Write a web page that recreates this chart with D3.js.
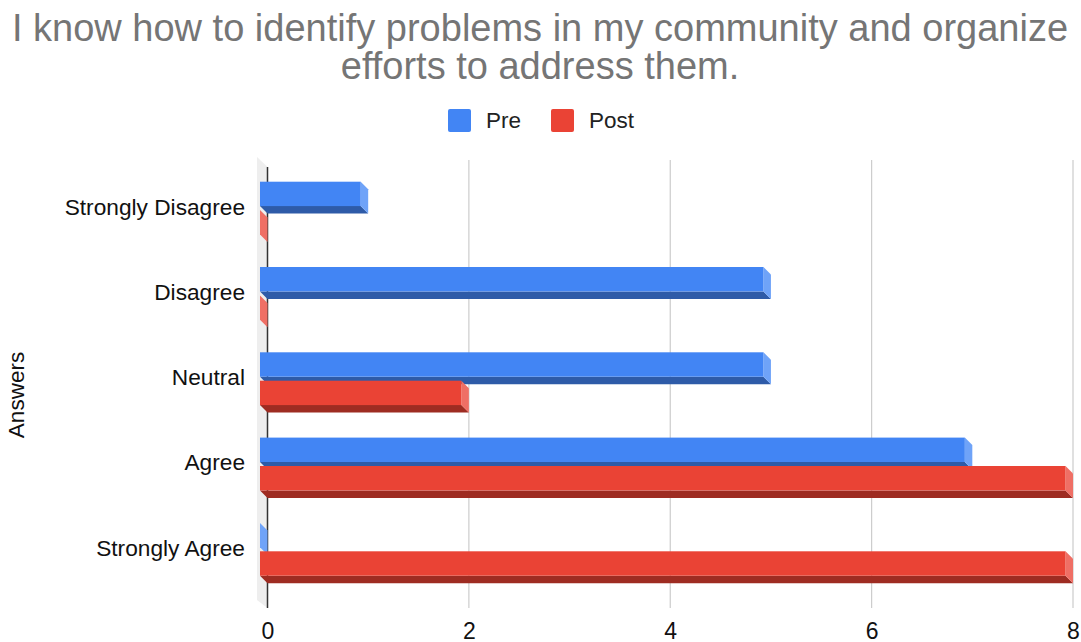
<!DOCTYPE html>
<html>
<head>
<meta charset="utf-8">
<script src="https://cdn.jsdelivr.net/npm/d3@7"></script>
<style>
  html, body { margin: 0; padding: 0; background: #fff; }
  svg { display: block; font-family: "Liberation Sans", Arial, sans-serif; }
</style>
</head>
<body>
<svg id="chart" width="1081" height="642"></svg>
<script>
const categories = ["Strongly Disagree", "Disagree", "Neutral", "Agree", "Strongly Agree"];
const seriesNames = ["Pre", "Post"];
const preValues = [1, 5, 5, 7, 0];
const postValues = [0, 0, 2, 8, 8];
const xTicks = [0, 2, 4, 6, 8];
const titleLines = ["I know how to identify problems in my community and organize", "efforts to address them."];
const yAxisTitle = "Answers";

const colors = {
  Pre:  { front: "#4285F4", bottom: "#2E5BA8", side: "#6FA3F8" },
  Post: { front: "#EA4335", bottom: "#9E2C22", side: "#EF6F65" }
};

const svg = d3.select("#chart");
const D = 7.5;          // 3D depth offset
const backTop = 167, backBottom = 608;

const x = d3.scaleLinear().domain([0, 8]).range([267.5, 1073]);
const y = d3.scaleBand().domain(categories).range([165.45, 591.95]).paddingInner(0.381).paddingOuter(0.1905);
const ySub = d3.scaleBand().domain(seriesNames).range([0, y.bandwidth()]).paddingInner(0.1408);

// Title
svg.append("g").selectAll("text").data(titleLines).join("text")
  .attr("x", 540).attr("y", (d, i) => i === 0 ? 40.5 : 79)
  .attr("text-anchor", "middle").attr("font-size", 38).attr("fill", "#757575")
  .text(d => d);

// Legend
const legend = svg.append("g");
const legendItems = [{ name: "Pre", x: 448, tx: 486 }, { name: "Post", x: 551, tx: 589 }];
legend.selectAll("rect").data(legendItems).join("rect")
  .attr("x", d => d.x).attr("y", 109).attr("width", 23).attr("height", 23)
  .attr("rx", 2).attr("fill", d => colors[d.name].front);
legend.selectAll("text").data(legendItems).join("text")
  .attr("x", d => d.tx).attr("y", 128).attr("font-size", 22.5).attr("fill", "#222")
  .text(d => d.name);

// Wall (left side plane)
svg.append("polygon")
  .attr("points", [[x(0) - 10.5, backTop - 10], [x(0), backTop], [x(0), backBottom], [x(0) - 10.5, backBottom - 8]].map(p => p.join(",")).join(" "))
  .attr("fill", "#eeeeee");

// Gridlines
svg.append("g").selectAll("line").data(xTicks).join("line")
  .attr("x1", d => x(d)).attr("x2", d => x(d))
  .attr("y1", d => d === 0 ? backTop : backTop - 7).attr("y2", backBottom)
  .attr("stroke", d => d === 0 ? "#333" : "#cccccc").attr("stroke-width", d => d === 0 ? 1.5 : 1.2);

// X tick labels
svg.append("g").selectAll("text").data(xTicks).join("text")
  .attr("x", d => x(d) + 0.5).attr("y", 638.5).attr("text-anchor", "middle")
  .attr("font-size", 23).attr("fill", "#111").text(d => d);

// Category labels
svg.append("g").selectAll("text").data(categories).join("text")
  .attr("x", 245).attr("y", d => y(d) + y.bandwidth() / 2 - 1.5)
  .attr("dy", "0.35em").attr("text-anchor", "end")
  .attr("font-size", 22.7).attr("fill", "#111").text(d => d);

// Y axis title
svg.append("text")
  .attr("transform", "translate(24,395) rotate(-90)")
  .attr("text-anchor", "middle").attr("font-size", 22.5).attr("fill", "#111")
  .text(yAxisTitle);

// Bars (3D)
const barData = [];
categories.forEach((c, i) => {
  barData.push({ cat: c, series: "Pre", value: preValues[i] });
  barData.push({ cat: c, series: "Post", value: postValues[i] });
});

const bars = svg.append("g").selectAll("g").data(barData).join("g");
bars.each(function (d) {
  const g = d3.select(this);
  const col = colors[d.series];
  // front-plane coordinates
  const fx0 = x(0) - D, fx1 = x(d.value) - D;
  const fy0 = y(d.cat) + ySub(d.series), fy1 = fy0 + ySub.bandwidth();
  const pts = a => a.map(p => p.join(",")).join(" ");
  // bottom face
  g.append("polygon").attr("fill", col.bottom)
    .attr("points", pts([[fx0, fy1], [fx1, fy1], [fx1 + D, fy1 + D], [fx0 + D, fy1 + D]]));
  // right face
  g.append("polygon").attr("fill", col.side)
    .attr("points", pts([[fx1, fy0], [fx1 + D, fy0 + D], [fx1 + D, fy1 + D], [fx1, fy1]]));
  // front face
  if (d.value > 0) {
    g.append("rect").attr("fill", col.front)
      .attr("x", fx0).attr("y", fy0).attr("width", fx1 - fx0).attr("height", fy1 - fy0);
  }
});
</script>
</body>
</html>
